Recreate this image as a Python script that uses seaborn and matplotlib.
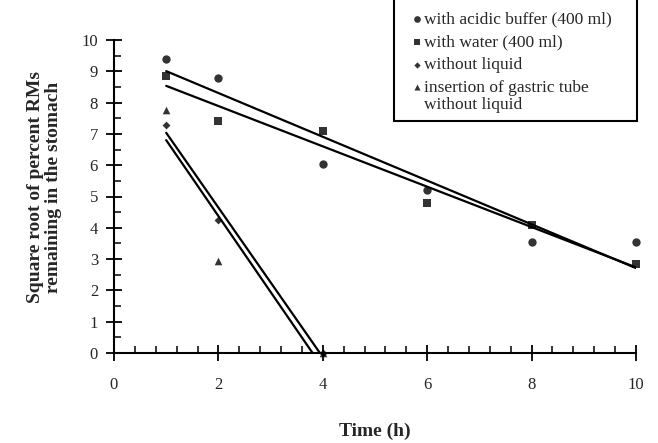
import matplotlib
matplotlib.use("Agg")
import matplotlib.pyplot as plt
from matplotlib.ticker import MultipleLocator
from matplotlib.legend_handler import HandlerPathCollection
from matplotlib.patches import Rectangle
import seaborn as sns
import pandas as pd

sns.set_style("ticks")
plt.rcParams['font.family'] = ['Liberation Serif', 'DejaVu Serif']

# Data
time_long = [1, 2, 4, 6, 8, 10]
acidic_buffer = [9.4, 8.8, 6.05, 5.2, 3.55, 3.55]
water = [8.85, 7.4, 7.1, 4.8, 4.1, 2.85]
time_short = [1, 2, 4]
without_liquid = [7.3, 4.25, 0.0]
gastric_tube = [7.75, 2.95, 0.0]

series = [
    ("with acidic buffer (400 ml)", time_long, acidic_buffer, "o", 36),
    ("with water (400 ml)", time_long, water, "s", 30),
    ("without liquid", time_short, without_liquid, "D", 16),
    ("insertion of gastric tube\nwithout liquid", time_short, gastric_tube, "^", 30),
]

W, H = 658, 443
fig = plt.figure(figsize=(W / 100, H / 100), dpi=100)
ax = fig.add_axes([114 / W, 1 - 353 / H, 522 / W, 313 / H])

for label, xs, ys, mk, s in series:
    df = pd.DataFrame({"x": xs, "y": ys})
    sns.regplot(data=df, x="x", y="y", ax=ax, ci=None, marker=mk, color="black",
                label=label, truncate=True,
                scatter_kws={"s": s, "linewidths": 0, "clip_on": False},
                line_kws={"lw": 1.6})

ax.set_xlim(0, 10)
ax.set_ylim(0, 10)
ax.xaxis.set_major_locator(MultipleLocator(2))
ax.xaxis.set_minor_locator(MultipleLocator(0.4))
ax.yaxis.set_major_locator(MultipleLocator(1))
ax.yaxis.set_minor_locator(MultipleLocator(0.5))
ax.tick_params(which="major", direction="inout", length=11, width=1.3,
               labelsize=12, color="black", pad=6)
ax.tick_params(axis="x", which="major", pad=12)
ax.tick_params(which="minor", direction="in", length=5, width=1.1, color="black")

for sp in ["top", "right"]:
    ax.spines[sp].set_visible(False)
for sp in ["left", "bottom"]:
    ax.spines[sp].set_linewidth(1.5)
    ax.spines[sp].set_color("black")

ax.set_xlabel("Time (h)", fontsize=14, fontweight="bold", labelpad=21)
ax.set_ylabel("Square root of percent RMs\nremaining in the stomach",
              fontsize=14, fontweight="bold", labelpad=14, linespacing=1.05)
ax.yaxis.label.set_y(0.53)

# legend box
box = Rectangle((394 / W, 1 - 121 / H), 243 / W, 130 / H, transform=fig.transFigure,
                facecolor="white", edgecolor="black", linewidth=1.5,
                clip_on=False, zorder=4.5)
ax.add_artist(box)

handles, labels = ax.get_legend_handles_labels()
hmap = {handles[3]: HandlerPathCollection(yoffsets=[1.3])}
leg = ax.legend(handles, labels, loc="upper left",
                bbox_to_anchor=(414 / W, 1 - 11 / H),
                bbox_transform=fig.transFigure, borderaxespad=0,
                fontsize=12.5, frameon=False, handlelength=0.3,
                handletextpad=0.3, borderpad=0.0, labelspacing=0.4,
                markerscale=0.8, handler_map=hmap)
leg.set_zorder(5)
for t in leg.get_texts():
    t.set_linespacing(1.1)

fig.savefig("out.png", dpi=100)
